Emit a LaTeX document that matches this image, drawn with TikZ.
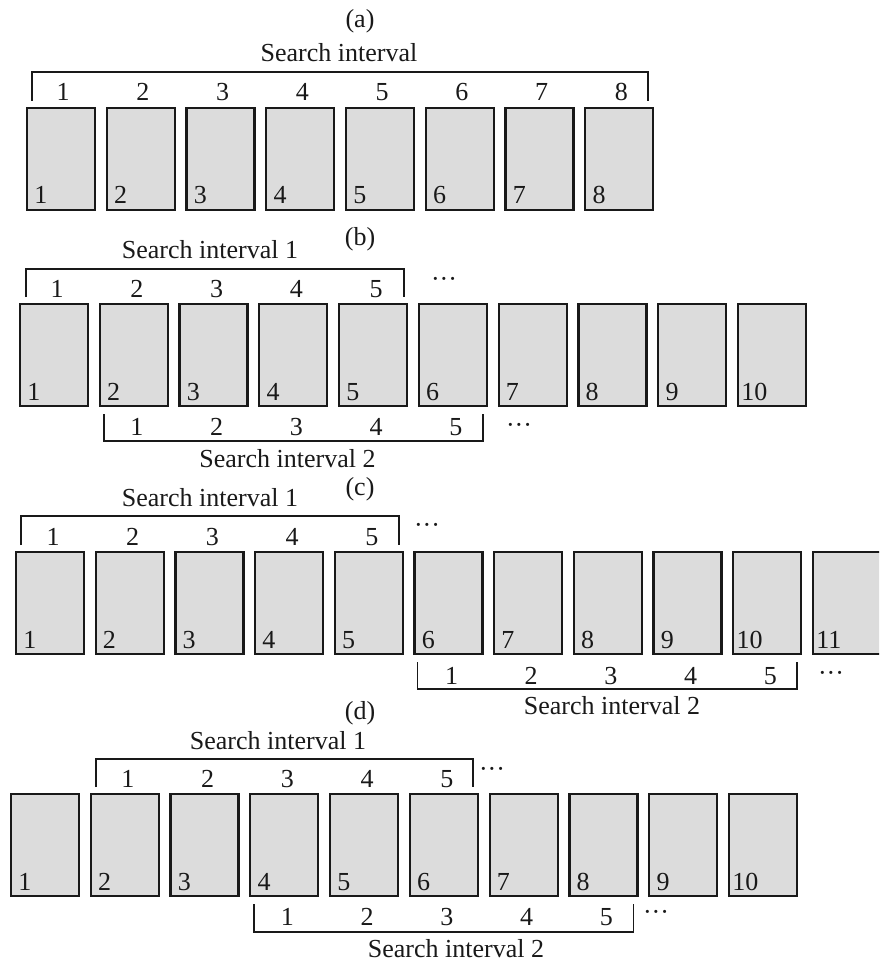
\documentclass[tikz,border=0pt]{standalone}
\usepackage{fontspec}
\setmainfont{Liberation Serif}
\usetikzlibrary{calc}
\definecolor{boxgray}{RGB}{220,220,220}
\definecolor{ink}{RGB}{25,25,25}
\begin{document}
\begin{tikzpicture}[x=0.75pt,y=-0.75pt,
  pagebox/.style={draw=ink, line width=1.7pt, fill=boxgray, minimum width=51pt, minimum height=76.5pt, inner sep=0pt, outer sep=0pt},
  txt/.style={font=\fontsize{19.5}{23}\selectfont, inner sep=0pt, text=ink},
  inlab/.style={txt, anchor=base west},
  num/.style={txt, anchor=base},
  brk/.style={draw=ink, line width=1.3pt},
  dots/.style={txt, anchor=center}]
\clip (0,0) rectangle (879,962);
\fill[white] (0,0) rectangle (879,962);

% ---------------- (a) ----------------
\node[txt, anchor=base] (capa) at (360,28) {(a)};
\foreach \i in {1,...,8}{
  \node[pagebox] (a\i) at ({26+35+(\i-1)*79.75},159) {};
  \node[inlab] (a\i n) at ($(a\i.south west)+(7,-6)$) {\i};
  \node[num] (a\i t) at ($(a\i.north)+(2,-7)$) {\i};
}
\draw[brk] ($(a1.north west)+(5,-7)$) -- ($(a1.north west)+(5,-36)$) coordinate (aTL)
  -- ($(a8.north east)+(-5,-36)$) coordinate (aTR) -- ($(a8.north east)+(-5,-7)$);
\node[txt, anchor=base] (sa) at (339,62) {Search interval};

% ---------------- (b) ----------------
\node[txt, anchor=base] (capb) at (360,246) {(b)};
\foreach \i in {1,...,10}{
  \pgfmathsetmacro\sh{\i>9 ? 3 : 7}
  \node[pagebox] (b\i) at ({19+35+(\i-1)*79.78},355) {};
  \node[inlab] (b\i n) at ($(b\i.south west)+(\sh,-6)$) {\i};
}
\foreach \i in {1,...,5}{
  \node[num] (b\i t) at ($(b\i.north)+(3,-7)$) {\i};
}
\foreach \i [evaluate=\i as \j using int(\i+1)] in {1,...,5}{
  \node[num] (b\i u) at ($(b\j.south)+(3,29)$) {\i};
}
\draw[brk] ($(b1.north west)+(6,-7)$) -- ($(b1.north west)+(6,-35)$)
  -- ($(b5.north east)+(-3,-35)$) -- ($(b5.north east)+(-3,-7)$);
\draw[brk] ($(b2.south west)+(4,8)$) -- ($(b2.south west)+(4,35)$)
  -- ($(b6.south east)+(-4,35)$) -- ($(b6.south east)+(-4,8)$);
\node[txt, anchor=base] (sb1) at (210,259) {Search interval 1};
\node[txt, anchor=base] (sb2) at (287.5,467) {Search interval 2};
\node[dots] (db1) at (444,282) {···};
\node[dots] (db2) at (519,428) {···};

% ---------------- (c) ----------------
\node[txt, anchor=base] (capc) at (360,495) {(c)};
\foreach \i in {1,...,11}{
  \pgfmathsetmacro\sh{\i>9 ? 3 : 7}
  \node[pagebox] (c\i) at ({15+35+(\i-1)*79.7},603) {};
  \node[inlab] (c\i n) at ($(c\i.south west)+(\sh,-6)$) {\i};
}
\foreach \i in {1,...,5}{
  \node[num] (c\i t) at ($(c\i.north)+(3,-7)$) {\i};
}
\foreach \i [evaluate=\i as \j using int(\i+5)] in {1,...,5}{
  \node[num] (c\i u) at ($(c\j.south)+(3,30)$) {\i};
}
\draw[brk] ($(c1.north west)+(5,-7)$) -- ($(c1.north west)+(5,-36)$)
  -- ($(c5.north east)+(-4,-36)$) -- ($(c5.north east)+(-4,-7)$);
\draw[brk] ($(c6.south west)+(3,8)$) -- ($(c6.south west)+(3,35)$)
  -- ($(c10.south east)+(-4,35)$) -- ($(c10.south east)+(-4,8)$);
\node[txt, anchor=base] (sc1) at (210,506) {Search interval 1};
\node[txt, anchor=base] (sc2) at (612,714) {Search interval 2};
\node[dots] (dc1) at (427,528) {···};
\node[dots] (dc2) at (831,676) {···};

% ---------------- (d) ----------------
\node[txt, anchor=base] (capd) at (360,719) {(d)};
\foreach \i in {1,...,10}{
  \pgfmathsetmacro\sh{\i>9 ? 3 : 7}
  \node[pagebox] (d\i) at ({10+35+(\i-1)*79.78},845) {};
  \node[inlab] (d\i n) at ($(d\i.south west)+(\sh,-6)$) {\i};
}
\foreach \i [evaluate=\i as \j using int(\i+1)] in {1,...,5}{
  \node[num] (d\i t) at ($(d\j.north)+(3,-7)$) {\i};
}
\foreach \i [evaluate=\i as \j using int(\i+3)] in {1,...,5}{
  \node[num] (d\i u) at ($(d\j.south)+(3,29)$) {\i};
}
\draw[brk] ($(d2.north west)+(5,-7)$) -- ($(d2.north west)+(5,-35)$)
  -- ($(d6.north east)+(-5,-35)$) -- ($(d6.north east)+(-5,-7)$);
\draw[brk] ($(d4.south west)+(4,8)$) -- ($(d4.south west)+(4,36)$)
  -- ($(d8.south east)+(-4,36)$) -- ($(d8.south east)+(-4,8)$);
\node[txt, anchor=base] (sd1) at (278,749) {Search interval 1};
\node[txt, anchor=base] (sd2) at (456,957) {Search interval 2};
\node[dots] (dd1) at (492,772) {···};
\node[dots] (dd2) at (656,915) {···};
\end{tikzpicture}
\end{document}
